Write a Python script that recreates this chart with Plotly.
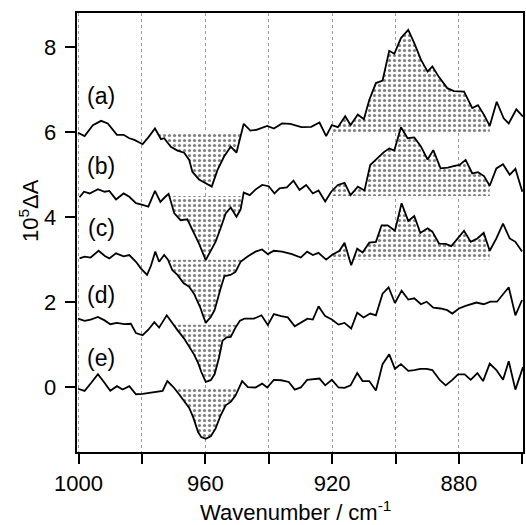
import numpy as np
import plotly.graph_objects as go

# ---------------- data (wavenumber / cm-1, 10^5 dA) ----------------
wn_a = [1000.2, 998.1, 995.5, 992.9, 990.8, 987.9, 985.8, 984.0, 982.4, 979.8, 978.0, 975.9, 974.0, 973.0,
        970.9, 968.8, 966.7, 965.1, 964.1, 962.0, 959.9, 958.0, 956.2, 954.1, 952.0, 950.2, 947.9, 945.8,
        943.9, 940.5, 938.4, 935.8, 933.2, 929.7, 926.6, 924.0, 921.9, 920.1, 918.2, 915.9, 914.2, 911.9,
        910.0, 908.3, 906.2, 904.1, 902.0, 900.4, 898.3, 896.0, 894.1, 892.0, 889.9, 888.4, 886.3, 883.7,
        881.6, 878.4, 875.8, 874.0, 872.1, 870.3, 868.1, 865.9, 864.3, 861.9, 859.8]
ab_a = [5.99, 5.91, 6.17, 6.27, 6.21, 5.94, 5.94, 5.86, 5.82, 5.72, 5.88, 6.09, 5.84, 5.86,
        5.66, 5.57, 5.52, 5.35, 5.07, 4.89, 4.80, 4.72, 5.11, 5.43, 5.66, 5.52, 6.20, 6.04,
        6.06, 6.15, 6.09, 6.21, 6.20, 6.12, 6.13, 6.23, 5.91, 6.17, 6.12, 6.38, 6.17, 6.42,
        6.31, 6.76, 7.16, 7.22, 7.92, 7.85, 8.22, 8.41, 8.10, 7.71, 7.43, 7.55, 7.30, 7.04,
        6.97, 6.96, 6.57, 6.64, 6.41, 6.15, 6.72, 6.33, 6.21, 6.54, 6.37]

wn_b = [999.7, 998.3, 996.5, 993.9, 991.8, 990.3, 988.2, 985.8, 984.0, 981.9, 979.8, 978.0, 975.9, 974.2,
        972.8, 971.6, 969.8, 967.8, 965.7, 964.1, 962.0, 959.9, 958.3, 956.8, 955.2, 953.6, 952.0, 950.2,
        948.9, 947.9, 946.0, 944.2, 942.1, 940.0, 938.2, 936.6, 934.3, 932.2, 930.3, 928.2, 926.1, 924.3,
        922.2, 920.3, 918.2, 916.1, 914.2, 911.9, 909.8, 908.0, 905.7, 903.6, 902.0, 900.4, 898.3, 896.2,
        894.1, 892.1, 889.9, 888.1, 885.8, 883.5, 881.4, 879.8, 877.9, 875.8, 874.0, 872.1, 870.3, 868.2,
        866.1, 864.0, 862.2, 860.0]
ab_b = [4.47, 4.60, 4.56, 4.66, 4.60, 4.62, 4.42, 4.56, 4.48, 4.33, 4.29, 4.25, 4.62, 4.36,
        4.47, 4.55, 4.09, 3.93, 3.95, 3.70, 3.38, 2.99, 3.21, 3.42, 3.74, 4.09, 4.23, 4.01,
        4.18, 4.58, 4.52, 4.65, 4.76, 4.73, 4.56, 4.68, 4.70, 4.86, 4.64, 4.76, 4.56, 4.63,
        4.37, 4.60, 4.76, 4.81, 4.52, 4.72, 4.63, 5.23, 5.39, 5.54, 5.62, 5.57, 6.12, 5.86,
        5.88, 5.68, 5.36, 5.58, 5.15, 5.17, 5.21, 5.23, 5.35, 5.03, 5.06, 4.97, 4.74, 5.15,
        5.25, 5.00, 5.14, 4.60]

wn_c = [999.7, 998.1, 996.2, 993.7, 991.6, 990.3, 988.2, 985.8, 984.0, 981.9, 980.3, 978.4, 977.2, 975.8,
        974.6, 973.0, 971.8, 970.4, 968.8, 966.9, 965.1, 963.6, 961.7, 959.9, 958.3, 957.1, 955.2, 954.0,
        952.1, 950.5, 948.9, 946.8, 944.2, 942.1, 940.3, 938.4, 935.8, 932.7, 929.9, 927.9, 926.1, 924.3,
        921.9, 920.1, 917.7, 916.1, 914.0, 912.1, 910.4, 908.3, 906.2, 904.4, 902.5, 900.2, 898.1, 896.0,
        894.1, 892.2, 889.9, 888.4, 886.3, 884.2, 882.4, 880.5, 878.4, 876.3, 874.2, 872.2, 870.3, 868.2,
        866.1, 864.0, 862.2, 860.1]
ab_c = [3.03, 3.07, 3.05, 3.21, 3.08, 3.03, 3.15, 3.08, 3.11, 2.95, 2.79, 2.64, 2.85, 3.19,
        2.95, 3.11, 3.00, 2.75, 2.64, 2.45, 2.36, 2.20, 1.89, 1.51, 1.65, 1.81, 2.32, 2.61,
        2.64, 2.71, 2.95, 3.07, 3.19, 3.24, 3.13, 3.21, 3.19, 3.13, 3.05, 3.19, 3.11, 3.16,
        3.00, 3.11, 3.21, 3.40, 2.87, 3.26, 3.17, 3.40, 3.42, 3.81, 3.81, 3.68, 4.33, 3.91,
        4.03, 3.63, 3.74, 3.66, 3.38, 3.37, 3.32, 3.50, 3.68, 3.42, 3.50, 3.63, 3.21, 3.50,
        3.85, 3.50, 3.42, 3.19]

wn_d = [1000.2, 998.1, 996.2, 993.9, 991.8, 990.0, 987.9, 985.6, 983.5, 981.9, 979.8, 978.0, 976.1, 974.6,
        972.2, 970.4, 968.8, 966.7, 965.1, 963.6, 962.3, 961.3, 959.9, 958.3, 957.1, 955.7, 954.6, 953.3,
        952.0, 950.5, 949.1, 947.7, 944.7, 942.3, 940.3, 938.4, 936.1, 934.0, 931.8, 929.9, 927.8, 926.1,
        924.3, 922.2, 920.1, 918.0, 916.1, 914.0, 912.1, 910.1, 908.0, 906.2, 904.1, 902.2, 900.2, 898.1,
        896.0, 894.1, 892.0, 890.2, 888.1, 885.8, 883.7, 882.1, 880.0, 877.9, 874.5, 872.2, 870.1, 868.0,
        866.1, 864.3, 862.2, 860.1]
ab_d = [1.61, 1.56, 1.59, 1.65, 1.57, 1.48, 1.51, 1.48, 1.49, 1.27, 1.22, 1.35, 1.53, 1.40,
        1.69, 1.49, 1.34, 1.14, 0.96, 0.77, 0.57, 0.36, 0.12, 0.16, 0.30, 0.69, 1.09, 1.17,
        1.18, 1.40, 1.56, 1.61, 1.61, 1.69, 1.46, 1.72, 1.67, 1.64, 1.43, 1.51, 1.61, 1.59,
        1.90, 1.67, 1.59, 1.47, 1.51, 1.38, 1.75, 1.64, 1.73, 1.69, 2.20, 2.35, 1.98, 2.27,
        2.06, 2.09, 1.95, 2.01, 1.87, 1.85, 1.81, 1.73, 1.85, 1.91, 1.99, 1.95, 2.01, 2.01,
        2.19, 2.35, 1.69, 2.05]

wn_e = [1000.2, 998.1, 996.0, 993.9, 992.0, 990.0, 987.9, 986.1, 984.0, 981.9, 979.8, 976.1, 973.5, 972.0,
        970.1, 968.3, 966.7, 965.1, 963.8, 962.3, 961.3, 959.9, 958.3, 956.8, 955.2, 953.6, 952.0, 950.5,
        948.4, 946.6, 944.2, 942.1, 940.5, 938.4, 936.1, 933.7, 931.8, 929.9, 927.9, 925.8, 924.0, 922.2,
        920.1, 918.0, 916.1, 914.2, 912.1, 910.4, 908.3, 906.2, 904.1, 902.0, 900.2, 898.3, 896.0, 894.1,
        892.2, 890.2, 888.4, 886.0, 884.2, 882.1, 880.3, 878.2, 876.3, 874.2, 872.4, 870.3, 868.2, 866.1,
        864.3, 862.2, 859.8]
ab_e = [-0.04, -0.09, 0.10, 0.30, 0.12, -0.09, 0.02, -0.06, 0.02, -0.17, -0.16, -0.12, -0.09, 0.14,
        0.00, -0.17, -0.33, -0.49, -0.72, -1.06, -1.18, -1.22, -1.16, -0.98, -0.67, -0.43, -0.35, -0.20,
        0.14, 0.00, -0.01, 0.08, -0.01, 0.17, 0.16, 0.12, -0.06, -0.01, 0.17, 0.18, 0.20, 0.04,
        0.17, -0.01, -0.02, 0.04, 0.33, 0.14, 0.14, -0.08, 0.54, 0.77, 0.43, 0.54, 0.38, 0.40,
        0.43, 0.43, 0.40, 0.16, 0.04, 0.17, 0.30, 0.30, 0.17, 0.33, 0.14, 0.55, 0.40, 0.17,
        0.61, -0.06, 0.47]

series_names = ["(a)", "(b)", "(c)", "(d)", "(e)"]
series_wn = [wn_a, wn_b, wn_c, wn_d, wn_e]
series_ab = [ab_a, ab_b, ab_c, ab_d, ab_e]

# shaded bands: (series index, baseline, start wn, end wn, sign)
band_series = [0, 0, 1, 1, 2, 2, 3, 4]
band_base = [6.0, 6.0, 4.5, 4.5, 3.0, 3.0, 1.47, -0.03]
band_start = [975.5, 920.0, 971.5, 920.0, 971.5, 920.0, 970.5, 969.5]
band_end = [948.5, 870.3, 948.0, 870.3, 948.0, 870.3, 950.0, 949.5]
band_sign = [-1, 1, -1, 1, -1, 1, -1, -1]

label_wn = 992.8
label_ab = [6.85, 5.2, 3.74, 2.16, 0.69]

x_ticks = [1000, 960, 920, 880]
y_ticks = [0, 2, 4, 6, 8]
y_ticktext = ["0", "2", "4", "6", "8"]

FONT = "Liberation Sans, Arial, Helvetica, sans-serif"


def band_polygon(wn, ab, base, w1, w2, sign):
    ws = np.array(wn, dtype=float)[::-1]
    vs = np.array(ab, dtype=float)[::-1]
    lo, hi = min(w1, w2), max(w1, w2)
    grid = np.concatenate([[lo], ws[(ws > lo) & (ws < hi)], [hi]])
    vals = np.interp(grid, ws, vs)
    d = vals - base
    extra = []
    for i in range(len(grid) - 1):
        if d[i] * d[i + 1] < 0:
            extra.append(grid[i] + (grid[i + 1] - grid[i]) * d[i] / (d[i] - d[i + 1]))
    grid = np.sort(np.concatenate([grid, extra]))
    vals = np.interp(grid, ws, vs)
    clipped = np.minimum(vals, base) if sign < 0 else np.maximum(vals, base)
    px = list(grid) + [hi, lo, lo]
    py = list(clipped) + [base, base, clipped[0]]
    return px, py


fig = go.Figure()

for si, base, w1, w2, sg in zip(band_series, band_base, band_start, band_end, band_sign):
    px, py = band_polygon(series_wn[si], series_ab[si], base, w1, w2, sg)
    fig.add_trace(go.Scatter(
        x=px, y=py, mode="lines", fill="toself",
        line=dict(width=0, color="rgba(0,0,0,0)"),
        fillcolor="white",
        fillpattern=dict(shape=".", fgcolor="black", bgcolor="white", size=5, solidity=0.32),
        hoverinfo="skip", showlegend=False))

for name, wn, ab in zip(series_names, series_wn, series_ab):
    fig.add_trace(go.Scatter(x=wn, y=ab, mode="lines", name=name,
                             line=dict(color="black", width=1.8), showlegend=False))

for name, yv in zip(series_names, label_ab):
    fig.add_annotation(x=label_wn, y=yv, xref="x", yref="y", text=name, showarrow=False,
                       xanchor="center", yanchor="middle",
                       font=dict(family=FONT, size=23, color="black"))

# y tick labels (placed a little further from the ticks, as in the reference)
for val, txt in zip(y_ticks, y_ticktext):
    fig.add_annotation(x=-0.043, y=val, xref="paper", yref="y", text=txt, showarrow=False,
                       xanchor="right", yanchor="middle",
                       font=dict(family=FONT, size=22, color="black"))

fig.add_annotation(x=-0.108, y=0.551, xref="paper", yref="paper", text="10<sup>5</sup>ΔA",
                   textangle=-90, showarrow=False, xanchor="center", yanchor="middle",
                   font=dict(family=FONT, size=22, color="black"))
fig.add_annotation(x=0.489, y=-0.135, xref="paper", yref="paper",
                   text="Wavenumber / cm<sup>-1</sup>", showarrow=False,
                   xanchor="center", yanchor="middle",
                   font=dict(family=FONT, size=22, color="black"))

fig.update_layout(
    width=526, height=525,
    margin=dict(l=77, r=1, t=13, b=73),
    paper_bgcolor="white", plot_bgcolor="white",
    font=dict(family=FONT, size=22, color="black"),
    xaxis=dict(range=[1000.5, 859.8], tickmode="array", tickvals=x_ticks,
               ticks="outside", ticklen=10, tickwidth=1.5, tickcolor="black",
               showline=True, linewidth=1.5, linecolor="black", mirror=True,
               showgrid=True, gridcolor="#999999", griddash="dot", gridwidth=1,
               minor=dict(tick0=1000, dtick=20, ticks="outside", ticklen=10, tickwidth=1.5,
                          tickcolor="black", showgrid=True, gridcolor="#999999",
                          griddash="dot", gridwidth=1),
               zeroline=False, tickfont=dict(size=22), ticklabelstandoff=1),
    yaxis=dict(range=[-1.53, 8.81], tickmode="array", tickvals=y_ticks,
               showticklabels=False,
               ticks="outside", ticklen=10, tickwidth=1.5, tickcolor="black",
               showline=True, linewidth=1.5, linecolor="black", mirror=True,
               showgrid=False, zeroline=False),
)

fig.write_html("out.html")
